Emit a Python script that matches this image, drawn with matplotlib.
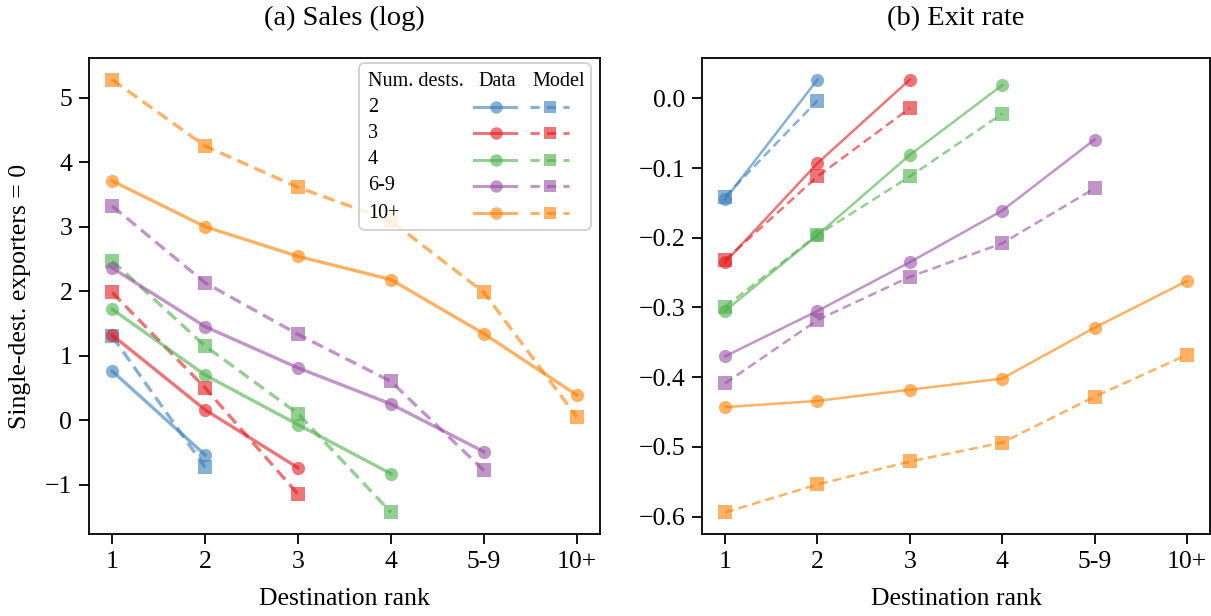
import matplotlib
matplotlib.use("Agg")
import matplotlib.pyplot as plt
from matplotlib.patches import FancyBboxPatch
from matplotlib.lines import Line2D

plt.rcParams['font.family'] = ['Liberation Serif', 'DejaVu Serif']

rank_labels = ['1', '2', '3', '4', '5-9', '10+']
groups = ['2', '3', '4', '6-9', '10+']
colors = ['#377eb8', '#e41a1c', '#4daf4a', '#984ea3', '#ff7f00']

# Panel (a): Sales (log)
sales_data = [
    [0.76, -0.54],
    [1.32, 0.16, -0.74],
    [1.72, 0.70, -0.07, -0.83],
    [2.36, 1.45, 0.81, 0.25, -0.49],
    [3.71, 3.00, 2.54, 2.18, 1.34, 0.39],
]
sales_model = [
    [1.30, -0.73],
    [1.98, 0.50, -1.15],
    [2.47, 1.15, 0.10, -1.43],
    [3.32, 2.13, 1.33, 0.60, -0.78],
    [5.28, 4.25, 3.61, 3.09, 1.98, 0.05],
]

# Panel (b): Exit rate
exit_data = [
    [-0.145, 0.027],
    [-0.235, -0.093, 0.027],
    [-0.305, -0.196, -0.081, 0.019],
    [-0.370, -0.305, -0.235, -0.161, -0.059],
    [-0.443, -0.434, -0.418, -0.402, -0.329, -0.262],
]
exit_model = [
    [-0.141, -0.003],
    [-0.232, -0.112, -0.014],
    [-0.299, -0.196, -0.112, -0.022],
    [-0.409, -0.318, -0.256, -0.208, -0.129],
    [-0.594, -0.554, -0.521, -0.494, -0.428, -0.368],
]

W, H = 1211, 616
fig = plt.figure(figsize=(W / 100, H / 100), dpi=100)
ax1 = fig.add_axes([89 / W, 1 - 534 / H, (600 - 89) / W, (534 - 58) / H])
ax2 = fig.add_axes([702 / W, 1 - 534 / H, (1210 - 702) / W, (534 - 58) / H])

ALPHA = 0.6
FS = 18.5

def draw(ax, data, model, lw, ms):
    for c, d, m in zip(colors, data, model):
        xd = list(range(len(d)))
        xm = list(range(len(m)))
        ax.plot(xd, d, '-', color=c, marker='o', lw=lw, ms=ms, alpha=ALPHA,
                markeredgewidth=0)
        ax.plot(xm, m, '--', color=c, marker='s', lw=lw, ms=ms, alpha=ALPHA,
                markeredgewidth=0, dashes=(3.6, 2.0))
    ax.set_xticks(range(len(rank_labels)))
    ax.set_xticklabels(rank_labels)
    ax.set_xlabel('Destination rank', fontsize=FS, labelpad=11)
    ax.tick_params(labelsize=FS, length=7, width=1.3, direction='out', pad=5)
    for s in ax.spines.values():
        s.set_linewidth(1.3)

draw(ax1, sales_data, sales_model, 2.4, 9.5)
draw(ax2, exit_data, exit_model, 1.8, 9.5)

ax1.set_title('(a) Sales (log)', fontsize=20.5, pad=24)
ax2.set_title('(b) Exit rate', fontsize=20.5, pad=24)
ax1.set_ylabel('Single-dest. exporters = 0', fontsize=FS, labelpad=10)
ax1.set_yticks([-1, 0, 1, 2, 3, 4, 5])
ax1.set_yticklabels(['\u22121', '0', '1', '2', '3', '4', '5'])
ax2.set_yticks([-0.6, -0.5, -0.4, -0.3, -0.2, -0.1, 0.0])
ax2.set_yticklabels(['\u22120.6', '\u22120.5', '\u22120.4', '\u22120.3', '\u22120.2', '\u22120.1', '0.0'])

# Custom table-style legend in panel (a)
def px2ax(x, y):
    return ((x - 89) / (600 - 89), (534 - y) / (534 - 58))

bx0, by0 = px2ax(359, 230)
bx1, by1 = px2ax(591, 63)
box = FancyBboxPatch((bx0, by0), bx1 - bx0, by1 - by0,
                     boxstyle='round,pad=0,rounding_size=0.012',
                     transform=ax1.transAxes, facecolor='white',
                     edgecolor='#cccccc', lw=1.4, alpha=0.85, zorder=5)
ax1.add_patch(box)
LFS = 14.5
hx, hy = px2ax(368, 81)
ax1.text(hx, hy, 'Num. dests.', transform=ax1.transAxes, fontsize=LFS,
         va='center', ha='left', zorder=6)
dx, _ = px2ax(497, 81)
ax1.text(dx, hy, 'Data', transform=ax1.transAxes, fontsize=LFS,
         va='center', ha='center', zorder=6)
mx, _ = px2ax(559, 81)
ax1.text(mx, hy, 'Model', transform=ax1.transAxes, fontsize=LFS,
         va='center', ha='center', zorder=6)
row_y = [107, 133, 159.5, 186, 213]
for g, c, ry in zip(groups, colors, row_y):
    tx, ty = px2ax(368, ry)
    ax1.text(tx, ty, g, transform=ax1.transAxes, fontsize=LFS,
             va='center', ha='left', zorder=6)
    a0, _ = px2ax(474, ry)
    a1, _ = px2ax(516, ry)
    am, _ = px2ax(495.5, ry)
    ax1.add_line(Line2D([a0, a1], [ty, ty], transform=ax1.transAxes, color=c,
                        lw=2.2, alpha=ALPHA, zorder=6))
    ax1.add_line(Line2D([am], [ty], transform=ax1.transAxes, color=c, marker='o',
                        ms=9, markeredgewidth=0, alpha=ALPHA, zorder=6))
    b0, _ = px2ax(530, ry)
    b1, _ = px2ax(569, ry)
    bm, _ = px2ax(550, ry)
    ax1.add_line(Line2D([b0, b1], [ty, ty], transform=ax1.transAxes, color=c,
                        lw=2.2, ls='--', dashes=(3.0, 2.4), alpha=ALPHA, zorder=6))
    ax1.add_line(Line2D([bm], [ty], transform=ax1.transAxes, color=c, marker='s',
                        ms=9, markeredgewidth=0, alpha=ALPHA, zorder=6))

fig.savefig('out.png', dpi=100)
